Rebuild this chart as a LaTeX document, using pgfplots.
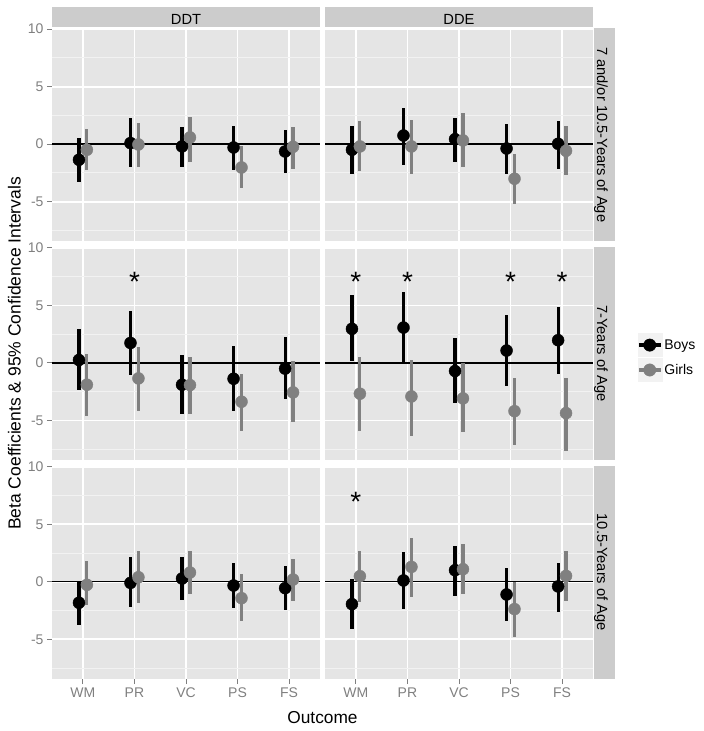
\documentclass[border=0pt]{standalone}
\usepackage{pgfplots}
\pgfplotsset{compat=1.18}
\usepackage{pgfplotstable}
\usepackage{fontspec}
\setmainfont{Liberation Sans}

\definecolor{panelbg}{HTML}{E5E5E5}
\definecolor{minorgrid}{HTML}{F2F2F2}
\definecolor{stripbg}{HTML}{CCCCCC}
\definecolor{ticktxt}{HTML}{7F7F7F}
\definecolor{girls}{HTML}{808080}
\definecolor{keybg}{HTML}{F2F2F2}

\newcommand\fs[1]{\fontsize{#1}{#1}\selectfont}

% columns: outcome index, boys estimate + CI, girls estimate + CI
\pgfplotstableread{
x  b      blo    bhi    g      glo    ghi
1  -1.36  -3.25  0.52   -0.49  -2.23  1.30
2  0.09   -2.00  2.29   -0.03  -2.00  1.88
3  -0.20  -2.00  1.50   0.58   -1.54  2.40
4  -0.29  -2.29  1.60   -2.03  -3.83  -0.20
5  -0.64  -2.52  1.19   -0.23  -2.12  1.50
}\ddtA
\pgfplotstableread{
x  b      blo    bhi    g      glo    ghi
1  -0.49  -2.60  1.60   -0.20  -2.32  2.00
2  0.75   -1.80  3.10   -0.20  -2.60  2.09
3  0.43   -1.59  2.29   0.32   -2.00  2.70
4  -0.38  -2.60  1.71   -3.01  -5.19  -0.90
5  0.03   -2.12  2.00   -0.58  -2.72  1.60
}\ddeA
\pgfplotstableread{
x  b      blo    bhi    g      glo    ghi
1  0.26   -2.38  2.97   -1.89  -4.59  0.81
2  1.74   -1.05  4.56   -1.34  -4.19  1.42
3  -1.89  -4.48  0.73   -1.92  -4.48  0.52
4  -1.37  -4.19  1.45   -3.37  -5.90  -0.99
5  -0.49  -3.14  2.24   -2.56  -5.17  0.15
}\ddtB
\pgfplotstableread{
x  b      blo    bhi    g      glo    ghi
1  2.97   0.17   5.87   -2.67  -5.90  0.52
2  3.08   -0.09  6.16   -2.91  -6.31  0.23
3  -0.70  -3.49  2.18   -3.08  -5.99  0.00
4  1.08   -1.98  4.16   -4.19  -7.09  -1.28
5  1.98   -0.96  4.85   -4.36  -7.62  -1.28
}\ddeB
\pgfplotstableread{
x  b      blo    bhi    g      glo    ghi
1  -1.82  -3.79  0.00   -0.26  -2.05  1.79
2  -0.09  -2.20  2.20   0.40   -1.82  2.66
3  0.29   -1.59  2.17   0.81   -1.10  2.66
4  -0.32  -2.28  1.68   -1.42  -3.41  0.64
5  -0.55  -2.49  1.36   0.20   -1.68  1.97
}\ddtC
\pgfplotstableread{
x  b      blo    bhi    g      glo    ghi
1  -1.94  -4.10  0.23   0.49   -1.79  2.66
2  0.12   -2.40  2.57   1.30   -1.30  3.79
3  1.01   -1.21  3.15   1.10   -1.10  3.27
4  -1.10  -3.41  1.18   -2.37  -4.80  0.00
5  -0.40  -2.60  1.68   0.52   -1.68  2.66
}\ddeC

\pgfplotsset{
  panel/.style={
    scale only axis, width=268pt, height=213.3pt,
    anchor=south west,
    xmin=0.4, xmax=5.6, ymin=-8.45, ymax=10.1,
    axis background/.style={fill=panelbg},
    axis line style={draw=none},
    xtick={1,2,3,4,5}, ytick={-5,0,5,10},
    minor ytick={-7.5,-2.5,2.5,7.5},
    grid=both,
    major grid style={white, line width=1.8pt},
    minor grid style={minorgrid, line width=0.9pt},
    xticklabels={WM,PR,VC,PS,FS},
    yticklabels={-5,0,5,10},
    xtick pos=bottom, ytick pos=left,
    tick align=outside, major tick length=5pt, minor tick length=0pt,
    tick style={ticktxt, line width=1pt},
    minor tick style={draw=none},
    ticklabel style={font=\fs{14}, text=ticktxt},
  },
  noxlab/.style={xticklabels={}, major x tick style={draw=none}},
  noylab/.style={yticklabels={}, major y tick style={draw=none}},
}

\newcommand\series[1]{%
  \addplot[forget plot, black, line width=1.3pt] coordinates {(0.4,0) (5.6,0)};
  \addplot[forget plot, only marks, mark=none,
    error bars/.cd, y dir=both, y explicit, error mark=none,
    error bar style={black, line width=3.2pt}]
    table[x expr=\thisrow{x}-0.077, y=b,
          y error plus expr=\thisrow{bhi}-\thisrow{b},
          y error minus expr=\thisrow{b}-\thisrow{blo}] {#1};
  \addplot[color=black, fill=black, only marks, mark=*, mark size=6pt,
    mark options={draw=black, fill=black, line width=0.4pt},
    legend image code/.code={
      \fill[keybg] (0pt,-11.5pt) rectangle (24pt,11.5pt);
      \draw[black, line width=3.2pt] (1pt,0pt) -- (23pt,0pt);
      \fill[black] (12pt,0pt) circle (6.2pt);}]
    table[x expr=\thisrow{x}-0.077, y=b] {#1};
  \addplot[forget plot, only marks, mark=none,
    error bars/.cd, y dir=both, y explicit, error mark=none,
    error bar style={girls, line width=3.2pt}]
    table[x expr=\thisrow{x}+0.077, y=g,
          y error plus expr=\thisrow{ghi}-\thisrow{g},
          y error minus expr=\thisrow{g}-\thisrow{glo}] {#1};
  \addplot[color=girls, fill=girls, only marks, mark=*, mark size=6pt,
    mark options={draw=girls, fill=girls, line width=0.4pt},
    legend image code/.code={
      \fill[keybg] (0pt,-11.5pt) rectangle (24pt,11.5pt);
      \draw[girls, line width=3.2pt] (1pt,0pt) -- (23pt,0pt);
      \fill[girls] (12pt,0pt) circle (6.2pt);}]
    table[x expr=\thisrow{x}+0.077, y=g] {#1};
}
\newcommand\sigstar[2]{\node[font=\fs{28}, anchor=base, inner sep=0pt] at (axis cs:#1,#2) {*};}

\begin{document}
\begin{tikzpicture}
\path[use as bounding box] (0pt,0pt) rectangle (704pt,731pt);

% row 1: 7 and/or 10.5 years
\begin{axis}[panel, noxlab, at={(52pt,489.7pt)}]
  \series{\ddtA}
\end{axis}
\begin{axis}[panel, noxlab, noylab, at={(325pt,489.7pt)}]
  \series{\ddeA}
\end{axis}

% row 2: 7 years
\begin{axis}[panel, noxlab, at={(52pt,270.85pt)}]
  \series{\ddtB}
  \sigstar{2}{6.2}
\end{axis}
\begin{axis}[panel, noxlab, noylab, at={(325pt,270.85pt)},
    legend cell align=left,
    legend style={at={(1.164,0.481)}, anchor=west, draw=none, fill=none,
      inner sep=0pt, font=\fs{14}, row sep=1.5pt,
      nodes={fill=none, draw=none}}]
  \series{\ddeB}
  \sigstar{1}{6.2}\sigstar{2}{6.2}\sigstar{4}{6.2}\sigstar{5}{6.2}
  \legend{Boys,Girls}
\end{axis}

% row 3: 10.5 years
\begin{axis}[panel, at={(52pt,52pt)}]
  \series{\ddtC}
\end{axis}
\begin{axis}[panel, noylab, at={(325pt,52pt)}]
  \series{\ddeC}
  \sigstar{1}{6.1}
\end{axis}

% strips
\fill[stripbg] (52pt,704pt) rectangle (320pt,724pt);
\fill[stripbg] (325pt,704pt) rectangle (593pt,724pt);
\node[font=\fs{14.7}] at (186pt,711.5pt) {DDT};
\node[font=\fs{14.7}] at (459pt,711.5pt) {DDE};
\fill[stripbg] (594pt,489.7pt) rectangle (615pt,703pt);
\fill[stripbg] (594pt,270.85pt) rectangle (615pt,484.15pt);
\fill[stripbg] (594pt,52pt) rectangle (615pt,265.3pt);
\node[font=\fs{14.7}, rotate=-90, anchor=base, inner sep=0pt] at (597pt,596.35pt) {7 and/or 10.5-Years of Age};
\node[font=\fs{14.7}, rotate=-90, anchor=base, inner sep=0pt] at (597pt,377.5pt) {7-Years of Age};
\node[font=\fs{14.7}, rotate=-90, anchor=base, inner sep=0pt] at (597pt,158.65pt) {10.5-Years of Age};

% axis titles
\node[font=\fs{17.3}, anchor=base, inner sep=0pt] at (322.5pt,7pt) {Outcome};
\node[font=\fs{17.5}, rotate=90, anchor=base, inner sep=0pt] at (20.7pt,377.5pt) {Beta Coefficients \& 95\% Confidence Intervals};
\end{tikzpicture}
\end{document}
